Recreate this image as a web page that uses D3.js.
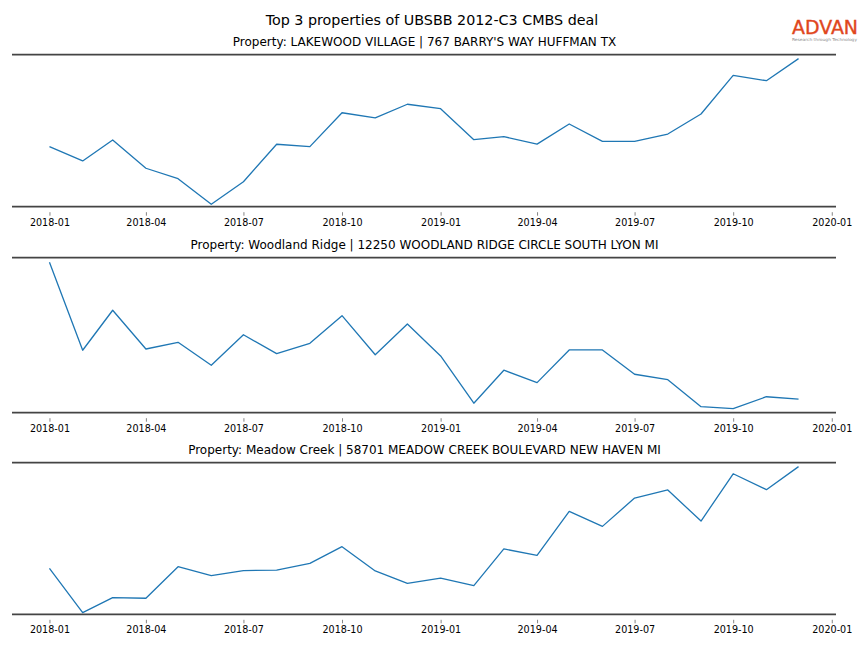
<!DOCTYPE html>
<html><head><meta charset="utf-8">
<script src="https://cdn.jsdelivr.net/npm/d3@7"></script>
<style>body{margin:0;background:#fff}svg{display:block}text{font-family:"DejaVu Sans",sans-serif}</style>
</head><body><svg id="c" width="864" height="648"></svg>
<script>
const months = ["2018-01","2018-02","2018-03","2018-04","2018-05","2018-06","2018-07","2018-08","2018-09","2018-10","2018-11","2018-12",
"2019-01","2019-02","2019-03","2019-04","2019-05","2019-06","2019-07","2019-08","2019-09","2019-10","2019-11","2019-12"];
const titles = ["Property: LAKEWOOD VILLAGE | 767 BARRY'S WAY HUFFMAN TX",
"Property: Woodland Ridge | 12250 WOODLAND RIDGE CIRCLE SOUTH LYON MI",
"Property: Meadow Creek | 58701 MEADOW CREEK BOULEVARD NEW HAVEN MI"];
const lakewood = [39.5,30.1,43.9,25.3,18.4,1.6,16.4,41.1,39.5,61.8,58.4,67.4,64.5,44.1,46.1,41.2,54.4,43.0,43.0,47.8,61.0,86.4,82.9,97.4];
const woodland = [97.0,40.3,66.1,41.1,45.4,30.6,50.3,38.1,44.8,62.6,37.4,57.2,36.6,6.1,27.4,19.4,40.5,40.5,24.8,21.3,3.9,2.6,10.3,8.8];
const meadow = [30.3,1.1,11.0,10.6,31.4,25.5,28.8,29.2,33.6,44.6,28.6,20.4,23.9,18.9,43.1,38.9,67.9,58.0,76.7,82.0,61.5,92.7,82.2,97.4];
const tickLabels = ["2018-01","2018-04","2018-07","2018-10","2019-01","2019-04","2019-07","2019-10","2020-01"];
const mainTitle = "Top 3 properties of UBSBB 2012-C3 CMBS deal";

const svg = d3.select("#c");
const parse = d3.timeParse("%Y-%m");
const dates = months.map(parse);
const series = [lakewood, woodland, meadow];
const panels = [{top:54.7,bottom:206.7},{top:257.7,bottom:412.7},{top:462.7,bottom:614.3}];
const left = 12, right = 836;

const t0 = dates[0], t1 = dates[dates.length-1];
const span = t1 - t0;
const x = d3.scaleTime().domain([new Date(+t0 - 0.05*span), new Date(+t1 + 0.05*span)]).range([left, right]);

svg.append("text").attr("x",432).attr("y",24.5).attr("text-anchor","middle").attr("font-size",14.3).attr("fill","#000").text(mainTitle);

// logo
const logo = svg.append("g");
logo.append("text").attr("x",792).attr("y",34).attr("font-size",19).attr("textLength",66).attr("lengthAdjust","spacingAndGlyphs")
  .attr("fill","#e0461c").attr("font-family","Liberation Sans, sans-serif").attr("stroke","#e0461c").attr("stroke-width",0.4).text("ADVAN");
logo.append("text").attr("x",792).attr("y",40.5).attr("font-size",4).attr("textLength",65).attr("lengthAdjust","spacingAndGlyphs")
  .attr("fill","#888").text("Research through Technology");

panels.forEach((p,i)=>{
  const y = d3.scaleLinear().domain([0,100]).range([p.bottom,p.top]);
  const g = svg.append("g");
  g.append("text").attr("x",(left+right)/2+0.5).attr("y",p.top-8.5).attr("text-anchor","middle").attr("font-size",12).attr("fill","#000").text(titles[i]);
  const line = d3.line().x((d,k)=>x(dates[k])).y(d=>y(d));
  g.append("path").datum(series[i]).attr("d",line).attr("fill","none").attr("stroke","#1f77b4").attr("stroke-width",1.3).attr("stroke-linejoin","round");
  g.append("line").attr("x1",left).attr("x2",right).attr("y1",y(100)).attr("y2",y(100)).attr("stroke","#444").attr("stroke-width",1.8);
  const ax = d3.axisBottom(x).tickValues(tickLabels.map(parse)).tickFormat(d3.timeFormat("%Y-%m")).tickSize(3.5).tickPadding(3);
  const axg = g.append("g").attr("transform",`translate(0,${y(0)})`).call(ax);
  axg.select(".domain").remove();
  axg.selectAll(".tick line").attr("stroke","#666").attr("stroke-width",0.8).attr("transform","translate(0,5.5)");
  axg.selectAll(".tick text").attr("font-size",9.6).attr("fill","#000").attr("font-family","DejaVu Sans, sans-serif").attr("transform","translate(0,5.5)");
  g.append("line").attr("x1",left).attr("x2",right).attr("y1",y(0)).attr("y2",y(0)).attr("stroke","#444").attr("stroke-width",1.8);
});
</script></body></html>
